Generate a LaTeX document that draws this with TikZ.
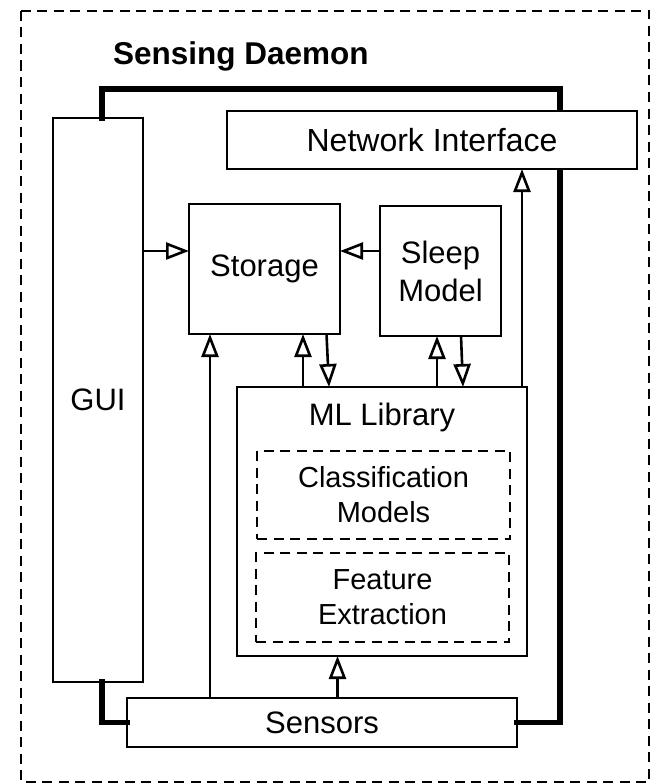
\documentclass[tikz,border=0pt]{standalone}
\usepackage{fontspec}
\setmainfont{Liberation Sans}
\usetikzlibrary{arrows.meta,calc}
\begin{document}
\begin{tikzpicture}[x=1pt,y=-1pt,
  box/.style={draw=black,line width=2.6pt,fill=white,rectangle,inner sep=0pt,outer sep=0pt,align=center,
    font=\fontsize{31}{38}\selectfont},
  dbox/.style={box,line width=2.4pt,dash pattern=on 10pt off 6.5pt,font=\fontsize{29}{35}\selectfont},
  frame/.style={line width=5.5pt,line join=miter,line cap=rect},
  arr/.style={line width=2.6pt,-{Triangle[open,length=23pt,width=17pt,line width=2.6pt]}},
  lbl/.style={inner sep=0pt,font=\fontsize{31}{38}\selectfont}]
\useasboundingbox (0,0) rectangle (654,784);
% outer dashed container
\draw[line width=2.4pt,dash pattern=on 10pt off 6.5pt] (21,11) rectangle (649,782);
\node[inner sep=0pt,anchor=base west,font=\bfseries\fontsize{31.5}{38}\selectfont] (title) at (113,65) {Sensing Daemon};
% nodes
\node[box,minimum width=90pt,minimum height=564pt] (gui) at (98,400) {GUI};
\node[box,minimum width=390pt,minimum height=49pt] (sensors) at (322,722.5) {Sensors};
% thick frame
\coordinate (ftl) at (102,89);
\coordinate (ftr) at (560,89);
\draw[frame] (gui.north -| ftl) -- (ftl) -- (ftr) -- (ftr |- sensors.east) -- (sensors.east);
\draw[frame] (gui.south -| ftl) -- (ftl |- sensors.west) -- (sensors.west);
\node[box,minimum width=410pt,minimum height=58pt,font=\fontsize{32}{38}\selectfont] (ni) at (432,140) {Network Interface};
\node[box,minimum width=151pt,minimum height=130pt] (storage) at (264.5,269) {Storage};
\node[box,minimum width=121pt,minimum height=130pt] (sleep) at (440.5,271) {Sleep\\Model};
\node[box,minimum width=290pt,minimum height=269pt] (ml) at (382,521.5) {};
\node[lbl] (mltext) at (382,417) {ML Library};
\node[dbox,minimum width=253pt,minimum height=88pt] (class) at (383.5,495) {Classification\\Models};
\node[dbox,minimum width=253pt,minimum height=89pt] (feat) at (382.5,597.5) {Feature\\Extraction};
% connectors
\coordinate (a1) at (0,251);
\draw[arr] (gui.east |- a1) -- (storage.west |- a1);
\draw[arr] (sleep.west |- a1) -- (storage.east |- a1);
\coordinate (x1) at (210,0);
\draw[arr] (sensors.north -| x1) -- (storage.south -| x1);
\coordinate (x2) at (303,0);
\draw[arr] (ml.north -| x2) -- (storage.south -| x2);
\coordinate (x3a) at (326.5,0);
\coordinate (x3b) at (329,0);
\draw[arr] (storage.south -| x3a) -- (ml.north -| x3b);
\coordinate (x4) at (437,0);
\draw[arr] (ml.north -| x4) -- (sleep.south -| x4);
\coordinate (x5a) at (461,0);
\coordinate (x5b) at (463,0);
\draw[arr] (sleep.south -| x5a) -- (ml.north -| x5b);
\coordinate (x6) at (522,0);
\draw[arr] (ml.north -| x6) -- (ni.south -| x6);
\coordinate (x7) at (337.5,0);
\draw[arr] (sensors.north -| x7) -- (ml.south -| x7);
\end{tikzpicture}
\end{document}
